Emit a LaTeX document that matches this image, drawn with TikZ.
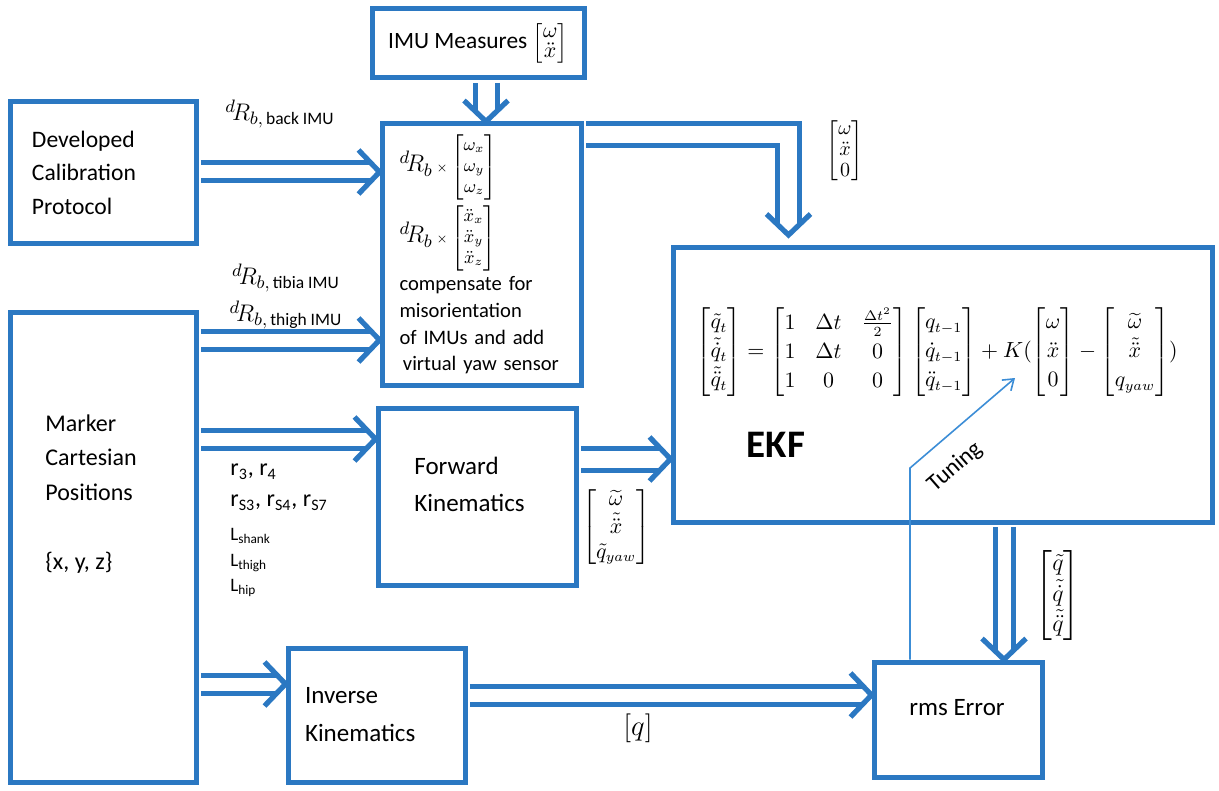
\documentclass[tikz,border=0pt]{standalone}
\usepackage{amsmath,amssymb}
\usepackage{fontspec}
\setmainfont{Carlito}
\usetikzlibrary{arrows.meta,positioning,calc}
\definecolor{ImuBlue}{HTML}{2B78C2}
\definecolor{TuneBlue}{HTML}{3C8DD6}
\tikzset{
    % plain rectangles, thick blue border
    blockbox/.style={
        rectangle,
        draw=ImuBlue,
        line width=2.5pt,
        inner sep=0pt,
        align=left
    },
    boxtext/.style={
        align=left,
        inner sep=0pt,
        font=\fontsize{11.8}{16.75}\selectfont
    },
    mathlbl/.style={
        inner sep=0pt,
        font=\fontsize{12.5}{14}\selectfont
    },
    % hollow double arrows: shaft and head
    dblarrow/.style={
        draw=ImuBlue,
        line width=2.5pt,
        double=white,
        double distance=6.5pt,
        shorten <=1.2pt,
        shorten >=4.5pt
    },
    widearrow/.style={
        dblarrow,
        double distance=8.5pt,
        shorten >=5.5pt
    },
    hollowhead/.pic={
        \draw[draw=ImuBlue, line width=2.6pt] (-21,22) -- (0,0) -- (-21,-22);
    },
    tuning/.style={
        draw=TuneBlue,
        line width=0.8pt,
        -{Straight Barb[length=5pt,width=7pt]}
    }
}
\begin{document}
\begin{tikzpicture}[x=0.5pt, y=-0.5pt]
    \useasboundingbox (0,0) rectangle (1219,791);

    % boxes
    \node[blockbox, minimum width=106pt, minimum height=34.5pt,
          font=\fontsize{11.7}{14}\selectfont] (imu) at (478,43.5)
        {IMU Measures {\fontsize{11}{12}\selectfont\renewcommand{\arraystretch}{0.8}$\begin{bmatrix}\omega\\ \ddot{x}\end{bmatrix}$}};
    \node[blockbox, minimum width=93pt, minimum height=70.5pt, text width=71pt,
          font=\fontsize{11.8}{16.75}\selectfont] (calib) at (103,172.5)
        {Developed\\Calibration\\Protocol};
    \node[blockbox, minimum width=99.5pt, minimum height=130.5pt, text width=82pt,
          font=\fontsize{10.3}{13.3}\selectfont] (comp) at (481.5,254.5)
        {{\fontsize{12.5}{13}\selectfont$^{d}\!R_{b}$}\,{\fontsize{6}{7}\selectfont$\times$}\,{\fontsize{9}{10.5}\selectfont$\begin{bmatrix}\omega_x\\ \omega_y\\ \omega_z\end{bmatrix}$}\\[2pt]
         {\fontsize{12.5}{13}\selectfont$^{d}\!R_{b}$}\,{\fontsize{6}{7}\selectfont$\times$}\,{\fontsize{9}{10.5}\selectfont$\begin{bmatrix}\ddot{x}_x\\ \ddot{x}_y\\ \ddot{x}_z\end{bmatrix}$}\\[2pt]
         compensate for\\misorientation\\of IMUs and add\\ \mbox{\,virtual yaw sensor}};
    \node[blockbox, minimum width=93pt, minimum height=235pt] (marker) at (103,547) {};
    \node[boxtext, anchor=west, font=\fontsize{12}{17.25}\selectfont] (markertext) at (45,494)
        {Marker\\Cartesian\\Positions\\[17.25pt]\{x, y, z\}};
    \node[blockbox, minimum width=99pt, minimum height=88.5pt] (fk) at (477,496.5) {};
    \node[boxtext, anchor=west, font=\fontsize{12.5}{18.5}\selectfont] (fktext) at (414,484)
        {Forward\\Kinematics};
    \node[blockbox, minimum width=269.5pt, minimum height=137.5pt] (ekf) at (942.5,384.5) {};
    \node[inner sep=0pt, font=\fontsize{10.5}{12.6}\selectfont] (ekfeq) at (937,352)
        {\renewcommand{\arraystretch}{1.15}$\begin{bmatrix}\tilde{q}_t\\ \tilde{\dot{q}}_t\\ \tilde{\ddot{q}}_t\end{bmatrix}
         =\begin{bmatrix}1 & \Delta t & \frac{\Delta t^2}{2}\\ 1 & \Delta t & 0\\ 1 & 0 & 0\end{bmatrix}
         \begin{bmatrix}q_{t-1}\\ \dot{q}_{t-1}\\ \ddot{q}_{t-1}\end{bmatrix}
         +K(\begin{bmatrix}\omega\\ \ddot{x}\\ 0\end{bmatrix}-\begin{bmatrix}\widetilde{\omega}\\ \tilde{\ddot{x}}\\ q_{yaw}\end{bmatrix})$};
    \node[inner sep=0pt, font=\fontsize{19.5}{22}\selectfont\bfseries] (ekftext) at (776,445) {EKF};
    \node[blockbox, minimum width=88.5pt, minimum height=67pt, text width=71.5pt,
          font=\fontsize{12.5}{19}\selectfont] (ik) at (376.5,715)
        {Inverse\\Kinematics};
    \node[blockbox, minimum width=84pt, minimum height=57.5pt] (rms) at (958,719.5) {};
    \node[boxtext, font=\fontsize{12.5}{15}\selectfont] (rmstext) at (957,708) {rms Error};

    % labels on the connectors
    \node[mathlbl] (backlbl) at (280,114) {$^{d}\!R_{b,\,\text{back IMU}}$};
    \node[mathlbl] (tibialbl) at (286,278) {$^{d}\!R_{b,\,\text{tibia IMU}}$};
    \node[mathlbl] (thighlbl) at (286,315) {$^{d}\!R_{b,\,\text{thigh IMU}}$};
    \node[mathlbl, font=\fontsize{10}{10.5}\selectfont] (omegalbl) at (845,151)
        {$\begin{bmatrix}\omega\\ \ddot{x}\\ 0\end{bmatrix}$};
    \node[mathlbl, font=\fontsize{10.5}{12.6}\selectfont] (fklbl) at (616,527)
        {$\begin{bmatrix}\widetilde{\omega}\\ \tilde{\ddot{x}}\\ \tilde{q}_{yaw}\end{bmatrix}$};
    \node[boxtext, anchor=west, font=\fontsize{12}{15.5}\selectfont] (rlbl) at (230,487.5)
        {r\textsubscript{3}, r\textsubscript{4}\\r\textsubscript{S3}, r\textsubscript{S4}, r\textsubscript{S7}};
    \node[boxtext, anchor=west, font=\fontsize{9.5}{12.75}\selectfont] (llbl) at (230,562.5)
        {L\textsubscript{shank}\\L\textsubscript{thigh}\\L\textsubscript{hip}};
    \node[mathlbl, font=\fontsize{12.5}{15}\selectfont] (qlbl) at (1058,595)
        {$\begin{bmatrix}\tilde{q}\\ \tilde{\dot{q}}\\ \tilde{\ddot{q}}\end{bmatrix}$};
    \node[mathlbl, font=\fontsize{14.5}{16}\selectfont] (iklbl) at (638,728) {$[q]$};

    % double arrows
    \draw[widearrow] (imu.south -| 486,0) -- (comp.north -| 486,0);
    \pic[rotate=-90] at (comp.north -| 486,0) {hollowhead};
    \draw[dblarrow] (calib.east |- 0,172) -- (comp.west |- 0,172);
    \pic at (comp.west |- 0,172) {hollowhead};
    \draw[dblarrow] (marker.east |- 0,340) -- (comp.west |- 0,340);
    \pic at (comp.west |- 0,340) {hollowhead};
    \draw[dblarrow] (marker.east |- 0,439) -- (fk.west |- 0,439);
    \pic at (fk.west |- 0,439) {hollowhead};
    \draw[dblarrow] (marker.east |- 0,684) -- (ik.west |- 0,684);
    \pic at (ik.west |- 0,684) {hollowhead};
    \coordinate (ekfin) at (788.5,235);
    \draw[widearrow] (comp.east |- 0,134.5) -| (ekfin);
    \pic[rotate=-90] at (ekfin) {hollowhead};
    \draw[widearrow] (fk.east |- 0,459) -- (ekf.west |- 0,459);
    \pic at (ekf.west |- 0,459) {hollowhead};
    \draw[dblarrow] (ik.east |- 0,695) -- (rms.west |- 0,695);
    \pic at (rms.west |- 0,695) {hollowhead};
    \draw[dblarrow] (ekf.south -| 1004,0) -- (rms.north -| 1004,0);
    \pic[rotate=-90] at (rms.north -| 1004,0) {hollowhead};

    % tuning feedback
    \coordinate (kgain) at (1015,378);
    \draw[tuning] (rms.north -| 910,0) -- (910,468) -- (kgain);
    \node[inner sep=0pt, rotate=41, font=\fontsize{11.8}{14}\selectfont] (tunetext) at (955,467) {Tuning};
\end{tikzpicture}
\end{document}
